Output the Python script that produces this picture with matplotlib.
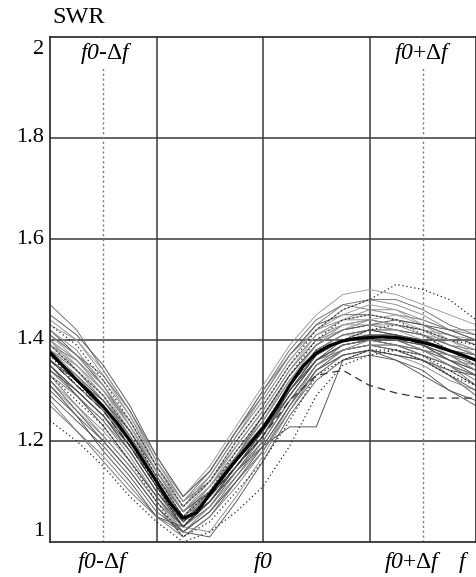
import matplotlib
matplotlib.use("Agg")
import matplotlib.pyplot as plt
from matplotlib.transforms import offset_copy

plt.rcParams['font.family'] = ['Liberation Serif', 'DejaVu Serif']
plt.rcParams['mathtext.fontset'] = 'custom'
plt.rcParams['mathtext.rm'] = 'Liberation Serif'
plt.rcParams['mathtext.it'] = 'Liberation Serif:italic'
plt.rcParams['mathtext.sf'] = 'Liberation Serif:italic'

# ---------------- data ----------------
freq = [0.0, 0.25, 0.5, 0.75, 1.0, 1.25, 1.5, 1.75, 2.0, 2.25, 2.5, 2.75, 3.0, 3.25, 3.5, 3.75, 4.0]

freq_mean = [0.0, 0.125, 0.25, 0.375, 0.5, 0.625, 0.75, 0.875, 1.0, 1.125, 1.25, 1.375, 1.5, 1.625,
             1.75, 1.875, 2.0, 2.125, 2.25, 2.375, 2.5, 2.625, 2.75, 2.875, 3.0, 3.125, 3.25, 3.375,
             3.5, 3.625, 3.75, 3.875, 4.0]
swr_mean = [1.375, 1.348, 1.321, 1.295, 1.268, 1.237, 1.201, 1.161, 1.12, 1.078, 1.047, 1.058, 1.095, 1.13,
            1.163, 1.194, 1.226, 1.265, 1.31, 1.348, 1.374, 1.389, 1.398, 1.403, 1.405, 1.406, 1.405, 1.401,
            1.395, 1.388, 1.379, 1.37, 1.36]

swr_solid = [
    [1.47, 1.42, 1.34, 1.26, 1.16, 1.08, 1.12, 1.19, 1.26, 1.34, 1.40, 1.43, 1.44, 1.43, 1.42, 1.40, 1.38],
    [1.44, 1.40, 1.33, 1.25, 1.15, 1.07, 1.13, 1.21, 1.28, 1.36, 1.42, 1.46, 1.48, 1.47, 1.45, 1.42, 1.40],
    [1.42, 1.37, 1.31, 1.23, 1.14, 1.06, 1.11, 1.18, 1.25, 1.33, 1.39, 1.42, 1.43, 1.42, 1.41, 1.39, 1.37],
    [1.40, 1.35, 1.29, 1.22, 1.13, 1.05, 1.10, 1.17, 1.23, 1.31, 1.38, 1.41, 1.42, 1.42, 1.41, 1.40, 1.38],
    [1.38, 1.33, 1.28, 1.21, 1.12, 1.04, 1.09, 1.16, 1.22, 1.30, 1.37, 1.40, 1.41, 1.41, 1.40, 1.38, 1.36],
    [1.36, 1.31, 1.26, 1.19, 1.11, 1.03, 1.08, 1.15, 1.21, 1.29, 1.36, 1.39, 1.40, 1.40, 1.39, 1.36, 1.34],
    [1.34, 1.29, 1.24, 1.18, 1.10, 1.03, 1.07, 1.14, 1.20, 1.28, 1.35, 1.38, 1.39, 1.38, 1.37, 1.35, 1.32],
    [1.32, 1.27, 1.22, 1.16, 1.09, 1.03, 1.02, 1.09, 1.17, 1.26, 1.34, 1.37, 1.38, 1.37, 1.35, 1.32, 1.30],
    [1.30, 1.25, 1.20, 1.14, 1.07, 1.01, 1.05, 1.12, 1.18, 1.26, 1.33, 1.37, 1.38, 1.36, 1.33, 1.30, 1.28],
    [1.41, 1.37, 1.32, 1.25, 1.16, 1.09, 1.15, 1.23, 1.31, 1.39, 1.45, 1.49, 1.50, 1.49, 1.47, 1.45, 1.43],
    [1.39, 1.36, 1.30, 1.24, 1.15, 1.08, 1.14, 1.22, 1.30, 1.37, 1.43, 1.47, 1.46, 1.45, 1.44, 1.42, 1.41],
    [1.35, 1.30, 1.25, 1.18, 1.10, 1.04, 1.08, 1.14, 1.19, 1.228, 1.228, 1.36, 1.38, 1.37, 1.36, 1.34, 1.33],
    [1.37, 1.33, 1.28, 1.21, 1.13, 1.05, 1.11, 1.17, 1.24, 1.32, 1.38, 1.41, 1.42, 1.41, 1.39, 1.37, 1.35],
    [1.39, 1.34, 1.29, 1.22, 1.14, 1.06, 1.12, 1.19, 1.26, 1.34, 1.40, 1.42, 1.43, 1.43, 1.42, 1.41, 1.39],
    [1.35, 1.30, 1.25, 1.18, 1.10, 1.03, 1.08, 1.14, 1.21, 1.29, 1.36, 1.39, 1.40, 1.39, 1.38, 1.36, 1.34],
    [1.41, 1.36, 1.30, 1.22, 1.13, 1.06, 1.11, 1.18, 1.24, 1.33, 1.39, 1.43, 1.44, 1.45, 1.43, 1.41, 1.40],
    [1.33, 1.29, 1.24, 1.17, 1.09, 1.02, 1.07, 1.13, 1.19, 1.27, 1.35, 1.38, 1.39, 1.38, 1.36, 1.34, 1.31],
    [1.38, 1.32, 1.27, 1.20, 1.12, 1.04, 1.10, 1.16, 1.22, 1.31, 1.37, 1.40, 1.40, 1.39, 1.37, 1.35, 1.33],
    [1.36, 1.32, 1.26, 1.19, 1.12, 1.05, 1.09, 1.16, 1.22, 1.30, 1.36, 1.38, 1.39, 1.38, 1.36, 1.33, 1.29],
    [1.42, 1.38, 1.31, 1.23, 1.14, 1.07, 1.12, 1.20, 1.27, 1.35, 1.41, 1.44, 1.46, 1.46, 1.44, 1.42, 1.42],
    [1.29, 1.24, 1.19, 1.13, 1.06, 1.02, 1.01, 1.08, 1.16, 1.25, 1.32, 1.36, 1.37, 1.36, 1.34, 1.30, 1.27],
    [1.40, 1.34, 1.29, 1.21, 1.12, 1.05, 1.10, 1.17, 1.24, 1.32, 1.38, 1.41, 1.41, 1.40, 1.39, 1.37, 1.36],
    [1.37, 1.33, 1.27, 1.19, 1.11, 1.04, 1.09, 1.15, 1.22, 1.30, 1.37, 1.40, 1.41, 1.40, 1.38, 1.36, 1.35],
    [1.34, 1.30, 1.25, 1.19, 1.11, 1.04, 1.08, 1.15, 1.21, 1.30, 1.36, 1.39, 1.40, 1.40, 1.39, 1.37, 1.34],
    [1.38, 1.34, 1.28, 1.21, 1.13, 1.06, 1.10, 1.17, 1.23, 1.31, 1.38, 1.41, 1.42, 1.42, 1.41, 1.39, 1.38],
    [1.31, 1.26, 1.21, 1.15, 1.08, 1.02, 1.06, 1.12, 1.18, 1.26, 1.34, 1.38, 1.39, 1.39, 1.37, 1.33, 1.29],
    [1.45, 1.41, 1.35, 1.27, 1.17, 1.09, 1.14, 1.22, 1.29, 1.37, 1.43, 1.45, 1.45, 1.44, 1.43, 1.41, 1.39],
    [1.43, 1.40, 1.34, 1.26, 1.16, 1.08, 1.13, 1.21, 1.28, 1.36, 1.42, 1.45, 1.47, 1.46, 1.43, 1.40, 1.37],
    [1.28, 1.22, 1.17, 1.11, 1.05, 1.01, 1.05, 1.11, 1.18, 1.27, 1.34, 1.38, 1.40, 1.39, 1.37, 1.35, 1.33],
    [1.31, 1.25, 1.18, 1.12, 1.05, 1.03, 1.09, 1.15, 1.22, 1.29, 1.36, 1.40, 1.42, 1.41, 1.39, 1.36, 1.33],
    [1.27, 1.22, 1.16, 1.10, 1.05, 1.02, 1.06, 1.13, 1.20, 1.28, 1.35, 1.39, 1.40, 1.40, 1.38, 1.35, 1.31],
    [1.40, 1.36, 1.31, 1.24, 1.15, 1.07, 1.13, 1.21, 1.29, 1.37, 1.42, 1.44, 1.44, 1.43, 1.41, 1.38, 1.35],
    [1.36, 1.32, 1.28, 1.22, 1.14, 1.06, 1.10, 1.17, 1.25, 1.33, 1.39, 1.42, 1.43, 1.44, 1.43, 1.42, 1.40],
    [1.38, 1.35, 1.30, 1.23, 1.15, 1.07, 1.12, 1.20, 1.27, 1.35, 1.41, 1.43, 1.43, 1.42, 1.40, 1.37, 1.34],
    [1.33, 1.27, 1.21, 1.15, 1.08, 1.03, 1.07, 1.14, 1.20, 1.28, 1.35, 1.38, 1.39, 1.39, 1.38, 1.37, 1.36],
    [1.35, 1.29, 1.23, 1.16, 1.09, 1.03, 1.08, 1.15, 1.22, 1.30, 1.37, 1.40, 1.41, 1.41, 1.40, 1.38, 1.37],
    [1.41, 1.37, 1.33, 1.26, 1.17, 1.09, 1.14, 1.22, 1.30, 1.38, 1.44, 1.47, 1.48, 1.48, 1.46, 1.43, 1.41],
    [1.37, 1.32, 1.26, 1.20, 1.12, 1.05, 1.10, 1.17, 1.24, 1.32, 1.39, 1.42, 1.44, 1.43, 1.42, 1.39, 1.37],
    [1.32, 1.26, 1.20, 1.14, 1.07, 1.02, 1.06, 1.12, 1.19, 1.27, 1.34, 1.37, 1.38, 1.37, 1.36, 1.33, 1.30],
    [1.39, 1.35, 1.30, 1.23, 1.14, 1.06, 1.11, 1.19, 1.26, 1.34, 1.41, 1.44, 1.45, 1.44, 1.42, 1.40, 1.38],
]

swr_dotted = [
    [1.24, 1.20, 1.15, 1.09, 1.04, 1.00, 1.02, 1.06, 1.11, 1.19, 1.29, 1.35, 1.37, 1.38, 1.37, 1.34, 1.31],
    [1.43, 1.39, 1.32, 1.24, 1.15, 1.07, 1.12, 1.20, 1.27, 1.35, 1.42, 1.46, 1.48, 1.51, 1.50, 1.48, 1.44],
    [1.37, 1.31, 1.27, 1.20, 1.11, 1.03, 1.09, 1.16, 1.23, 1.31, 1.38, 1.40, 1.42, 1.43, 1.42, 1.40, 1.39],
    [1.33, 1.28, 1.23, 1.16, 1.08, 1.01, 1.04, 1.10, 1.16, 1.24, 1.33, 1.36, 1.38, 1.38, 1.36, 1.33, 1.31],
    [1.39, 1.34, 1.29, 1.22, 1.13, 1.05, 1.10, 1.18, 1.25, 1.33, 1.40, 1.44, 1.45, 1.44, 1.41, 1.38, 1.35],
]

swr_dashed = [
    [1.36, 1.31, 1.26, 1.19, 1.11, 1.04, 1.09, 1.15, 1.21, 1.28, 1.33, 1.34, 1.31, 1.295, 1.285, 1.285, 1.285],
]

y_ticks = [1.0, 1.2, 1.4, 1.6, 1.8, 2.0]
y_tick_labels = ["1", "1.2", "1.4", "1.6", "1.8", "2"]
x_grid = [1.0, 2.0, 3.0]
band_edges = [0.5, 3.5]
x_labels_pos = [0.5, 2.0, 3.41, 3.88]
x_labels = [r"$f\mathsf{0}$-$\Delta f$", r"$f\mathsf{0}$", r"$f\mathsf{0}$+$\Delta f$", r"$f$"]
top_labels_pos = [0.53, 3.5]
top_labels = [r"$f\mathsf{0}$-$\Delta f$", r"$f\mathsf{0}$+$\Delta f$"]

# ---------------- figure ----------------
fig = plt.figure(figsize=(4.77, 5.77), dpi=100)
ax = fig.add_axes([50 / 477, 1 - 542 / 577, 426 / 477, 505 / 577])
ax.set_xlim(0, 4)
ax.set_ylim(1, 2)

# grid
for yv in y_ticks[1:-1]:
    ax.axhline(yv, color="#3a3a3a", lw=1.1, zorder=1)
for xv in x_grid:
    ax.axvline(xv, color="#3a3a3a", lw=1.1, zorder=1)
for xv in band_edges:
    ax.axvline(xv, color="#777777", lw=1.0, ls=(0, (1.5, 2)), zorder=1)

grays = ["#6e6e6e", "#8a8a8a", "#555555", "#9a9a9a", "#7a7a7a", "#4a4a4a"]
for i, ys in enumerate(swr_solid):
    ax.plot(freq, ys, color=grays[i % len(grays)], lw=0.65, zorder=2)
for ys in swr_dotted:
    ax.plot(freq, ys, color="#222222", lw=0.9, ls=(0, (1, 2.2)), zorder=2)
for ys in swr_dashed:
    ax.plot(freq, ys, color="#333333", lw=0.9, ls=(0, (6, 4)), zorder=2)
ax.plot(freq_mean, swr_mean, color="black", lw=2.3, zorder=3, solid_joinstyle="round")

# axes style
for s in ax.spines.values():
    s.set_color("#222222")
    s.set_linewidth(1.2)
ax.set_xticks([])
ax.set_yticks([])

# y tick labels
fs = 16
lfs = 17
for yv, lab in zip(y_ticks, y_tick_labels):
    va = "center"
    if yv == y_ticks[0]:
        va = "bottom"
    elif yv == y_ticks[-1]:
        va = "top"
    tr = offset_copy(ax.get_yaxis_transform(), fig=fig, x=-4, y=(-2 if va == "top" else (1 if va == "bottom" else 0)), units="points")
    ax.text(0, yv, lab, transform=tr, ha="right", va=va, fontsize=fs)

# x labels below
for xv, lab in zip(x_labels_pos, x_labels):
    tr = offset_copy(ax.get_xaxis_transform(), fig=fig, x=0, y=-6, units="points")
    ax.text(xv, 0, lab, transform=tr, ha="center", va="top", fontsize=lfs)

# top labels inside
for xv, lab in zip(top_labels_pos, top_labels):
    tr = offset_copy(ax.get_xaxis_transform(), fig=fig, x=0, y=-3, units="points")
    ax.text(xv, 1, lab, transform=tr, ha="center", va="top", fontsize=lfs, zorder=4,
            bbox=dict(facecolor="white", edgecolor="none", pad=1))

# SWR title
fig.text(52 / 477, 1 - 7 / 577, "SWR", ha="left", va="top", fontsize=17.5)

fig.savefig("out.png", dpi=100)
